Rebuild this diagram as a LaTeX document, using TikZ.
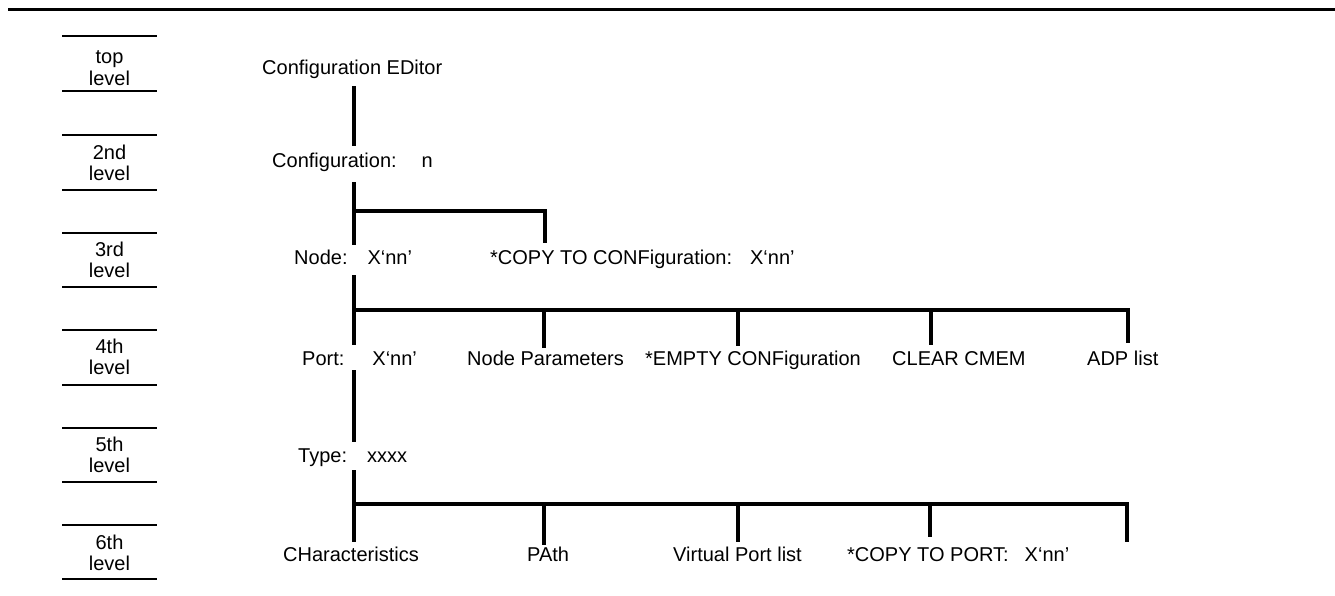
\documentclass[tikz,border=0pt]{standalone}
\usepackage{fontspec}
\setmainfont{Liberation Sans}
\begin{document}
\begin{tikzpicture}[x=1pt,y=-1pt,
  lbl/.style={anchor=base west, inner sep=0pt, text height=15pt, text depth=5pt, font=\fontsize{20}{21}\selectfont},
  lvl/.style={align=center, inner sep=0pt, font=\fontsize{20}{21.5}\selectfont},
  lvline/.style={line width=2.2pt},
  tree/.style={line width=3.2pt},
  rule/.style={line width=3pt},
]
\useasboundingbox (0,0) rectangle (1335,596);
% top rule
\draw[rule] (8,10) -- (1335,10);

% level labels
\node[lvl] (lv1) at (109.5,68) {top\\level};
\node[lvl] (lv2) at (109.5,163) {2nd\\level};
\node[lvl] (lv3) at (109.5,260) {3rd\\level};
\node[lvl] (lv4) at (109.5,357) {4th\\level};
\node[lvl] (lv5) at (109.5,455) {5th\\level};
\node[lvl] (lv6) at (109.5,553) {6th\\level};
\foreach \y in {36,91,135,190,233,287,330,385,428,482,525,579}
  \draw[lvline] (62,\y) -- (157,\y);

% main labels
\node[lbl] (ced) at (262,75) {Configuration EDitor};
\node[lbl] (cfg) at (272,168) {Configuration:\hspace{25pt}n};
\node[lbl] (nod) at (294,264) {Node:\hspace{20pt}X‘nn’};
\node[lbl] (cpc) at (490,264) {*COPY TO CONFiguration:\hspace{18pt}X‘nn’};
\node[lbl] (prt) at (302,365) {Port:\hspace{28pt}X‘nn’};
\node[lbl] (npa) at (467,365) {Node Parameters};
\node[lbl] (emp) at (645,365) {*EMPTY CONFiguration};
\node[lbl] (clr) at (892,365) {CLEAR CMEM};
\node[lbl] (adp) at (1087,365) {ADP list};
\node[lbl] (typ) at (298,462) {Type:\hspace{20pt}xxxx};
\node[lbl] (chr) at (283,561) {CHaracteristics};
\node[lbl] (pat) at (527,561) {PAth};
\node[lbl] (vpl) at (673,561) {Virtual Port list};
\node[lbl] (cpp) at (847,561) {*COPY TO PORT:\hspace{16pt}X‘nn’};

% trunk x and branch points
\coordinate (tx) at (354,0);
\coordinate (b3) at (545,211);
\coordinate (j1) at (544,310);
\coordinate (j2) at (738,310);
\coordinate (j3) at (931,310);
\coordinate (j4) at (1128,310);
\coordinate (k1) at (544,504);
\coordinate (k2) at (738,504);
\coordinate (k3) at (930,504);
\coordinate (k4) at (1127,504);
\coordinate (k4e) at (1127,542);

% trunk segments
\draw[tree, shorten <=6pt, shorten >=7pt] (ced.south -| tx) -- (cfg.north -| tx);
\draw[tree, shorten <=9pt, shorten >=4pt] (cfg.south -| tx) -- (nod.north -| tx);
\draw[tree, shorten <=6pt, shorten >=5pt] (nod.south -| tx) -- (prt.north -| tx);
\draw[tree, shorten <=0pt, shorten >=5pt] (prt.south -| tx) -- (typ.north -| tx);
\draw[tree, shorten <=3pt, shorten >=4pt] (typ.south -| tx) -- (chr.north -| tx);

% 3rd level branch
\draw[tree, shorten >=6pt] (tx |- b3) -- (b3) -- (b3 |- cpc.north);

% 4th level branch
\draw[tree, shorten >=7pt] (tx |- j4) -- (j4) -- (j4 |- adp.north);
\draw[tree, shorten >=2pt] (j1) -- (j1 |- npa.north);
\draw[tree, shorten >=4pt] (j2) -- (j2 |- emp.north);
\draw[tree, shorten >=5pt] (j3) -- (j3 |- clr.north);

% 6th level branch
\draw[tree] (tx |- k4) -- (k4) -- (k4e);
\draw[tree, shorten >=1pt] (k1) -- (k1 |- pat.north);
\draw[tree, shorten >=4pt] (k2) -- (k2 |- vpl.north);
\draw[tree, shorten >=9pt] (k3) -- (k3 |- cpp.north);
\end{tikzpicture}
\end{document}
